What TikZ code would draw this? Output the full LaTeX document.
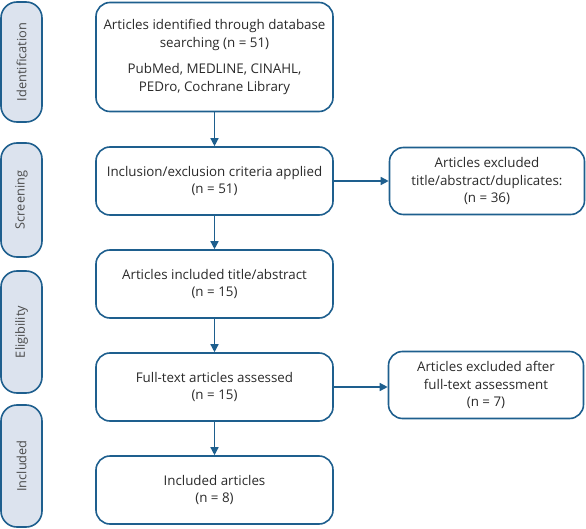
\documentclass[tikz,border=0pt]{standalone}
\usepackage{fontspec}
\setmainfont{Open Sans}
\usetikzlibrary{arrows.meta}
\definecolor{bord}{HTML}{1E5F8E}
\definecolor{pill}{HTML}{DCE3EE}
\definecolor{txt}{HTML}{2A2A2A}
\tikzset{
  box/.style={draw=bord, line width=1.6bp, rounded corners=14bp, fill=white, text=txt,
     align=center, font=\fontsize{13.4}{17.5}\selectfont, inner sep=0pt},
  side/.style={draw=bord, line width=1.6bp, rounded corners=16bp, fill=pill, text=txt!85,
     font=\fontsize{12.8}{15}\selectfont, inner sep=0pt},
  arr/.style={draw=bord, line width=1.4bp, -{Triangle[length=8bp,width=8bp]}}
}
\begin{document}
\begin{tikzpicture}[x=1bp,y=-1bp]
\useasboundingbox (0,0) rectangle (586,529);
% side labels
\node[side, minimum width=41bp, minimum height=120bp] (s1) at (21.5,62) {\rotatebox{90}{Identification}};
\node[side, minimum width=41bp, minimum height=114bp] (s2) at (21.5,200) {\rotatebox{90}{Screening}};
\node[side, minimum width=41bp, minimum height=122bp] (s3) at (21.5,332) {\rotatebox{90}{Eligibility}};
\node[side, minimum width=41bp, minimum height=122bp] (s4) at (21.5,466) {\rotatebox{90}{Included}};
% main boxes
\node[box, minimum width=237bp, minimum height=109bp] (b1) at (214.5,57)
  {Articles identified through database\\searching (n = 51)\\[9bp]PubMed, MEDLINE, CINAHL,\\PEDro, Cochrane Library};
\node[box, minimum width=237bp, minimum height=68bp] (b2) at (214.5,181)
  {Inclusion/exclusion criteria applied\\(n = 51)};
\node[box, minimum width=237bp, minimum height=68bp] (b3) at (214.5,284)
  {Articles included title/abstract\\(n = 15)};
\node[box, minimum width=237bp, minimum height=68bp] (b4) at (214.5,387)
  {Full-text articles assessed\\(n = 15)};
\node[box, minimum width=237bp, minimum height=68bp] (b5) at (214.5,490)
  {Included articles\\(n = 8)};
\node[box, minimum width=195bp, minimum height=67bp] (r1) at (487,181)
  {Articles excluded\\title/abstract/duplicates:\\(n = 36)};
\node[box, minimum width=195bp, minimum height=67bp] (r2) at (486,385)
  {Articles excluded after\\full-text assessment\\(n = 7)};
% arrows
\draw[arr] (b1) -- (b2);
\draw[arr] (b2) -- (b3);
\draw[arr] (b3) -- (b4);
\draw[arr] (b4) -- (b5);
\draw[arr] (b2) -- (r1);
\draw[arr] (b4.east) -- (r2.west |- b4.east);
\end{tikzpicture}
\end{document}
